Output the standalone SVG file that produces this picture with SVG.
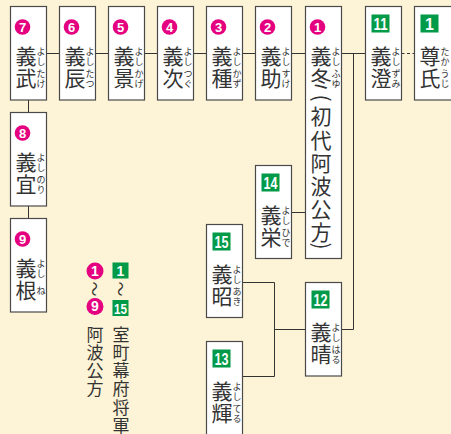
<svg xmlns="http://www.w3.org/2000/svg" width="451" height="434" viewBox="0 0 451 434">
<style>
.bg{fill:#fdf3d6}
.box{fill:#fff;stroke:#4a4a4a;stroke-width:1.2}
.k{font-family:"Noto Sans CJK JP","Noto Sans CJK SC",sans-serif;font-size:21px;fill:#333;text-anchor:middle}
.f{font-family:"Noto Sans CJK JP","Noto Sans CJK SC",sans-serif;font-size:9px;fill:#333;text-anchor:middle}
.lg{font-family:"Noto Sans CJK JP","Noto Sans CJK SC",sans-serif;font-size:17px;fill:#333;text-anchor:middle}
.c{fill:#e4007f}
.g{fill:#009a48}
.n{font-family:"Liberation Sans",Arial,sans-serif;font-weight:bold;font-size:13px;fill:#fff;text-anchor:middle}
.m{font-family:"Liberation Sans",Arial,sans-serif;font-weight:bold;font-size:16px;fill:#fff;text-anchor:middle}
.ln{stroke:#333;stroke-width:1;fill:none}
</style>
<rect class="bg" x="0" y="0" width="451" height="434"/>
<g id="connectors">
<path class="ln" d="M46.5 53.5H59.5M95.5 53.5H108.5M144.5 53.5H157.5M193.5 53.5H206.5M242.5 53.5H255.5M291.5 53.5H305.5M341.5 53.5H365.5M353.5 53.5V329.5H341.5"/>
<path class="ln" d="M401.5 53.5H414.5" stroke-dasharray="3,2.5"/>
<path class="ln" d="M28.5 100V112.5M28.5 206V218.5"/>
<path class="ln" d="M291.5 212.5H305.5"/>
<path class="ln" d="M242.5 282.5H274.5V376.5H242.5M274.5 329.5H305.5"/>
</g>
<g id="n7">
<rect class="box" x="10.5" y="6.5" width="36" height="93.5"/>
<circle class="c" cx="22.5" cy="27" r="7.8"/><text class="n" x="22.5" y="31.6">7</text>
<text class="k" x="26" y="63.5">義</text><text class="k" x="26" y="86">武</text>
<text class="f" x="41" y="54.5">よ</text><text class="f" x="41" y="64.5">し</text><text class="f" x="41" y="77">た</text><text class="f" x="41" y="87">け</text>
</g>
<g id="n6">
<rect class="box" x="59.5" y="6.5" width="36" height="93.5"/>
<circle class="c" cx="71.5" cy="27" r="7.8"/><text class="n" x="71.5" y="31.6">6</text>
<text class="k" x="75" y="63.5">義</text><text class="k" x="75" y="86">辰</text>
<text class="f" x="90" y="54.5">よ</text><text class="f" x="90" y="64.5">し</text><text class="f" x="90" y="77">た</text><text class="f" x="90" y="87">つ</text>
</g>
<g id="n5">
<rect class="box" x="108.5" y="6.5" width="36" height="93.5"/>
<circle class="c" cx="120.5" cy="27" r="7.8"/><text class="n" x="120.5" y="31.6">5</text>
<text class="k" x="124" y="63.5">義</text><text class="k" x="124" y="86">景</text>
<text class="f" x="139" y="54.5">よ</text><text class="f" x="139" y="64.5">し</text><text class="f" x="139" y="77">か</text><text class="f" x="139" y="87">げ</text>
</g>
<g id="n4">
<rect class="box" x="157.5" y="6.5" width="36" height="93.5"/>
<circle class="c" cx="169.5" cy="27" r="7.8"/><text class="n" x="169.5" y="31.6">4</text>
<text class="k" x="173" y="63.5">義</text><text class="k" x="173" y="86">次</text>
<text class="f" x="188" y="54.5">よ</text><text class="f" x="188" y="64.5">し</text><text class="f" x="188" y="77">つ</text><text class="f" x="188" y="87">ぐ</text>
</g>
<g id="n3">
<rect class="box" x="206.5" y="6.5" width="36" height="93.5"/>
<circle class="c" cx="218.5" cy="27" r="7.8"/><text class="n" x="218.5" y="31.6">3</text>
<text class="k" x="222" y="63.5">義</text><text class="k" x="222" y="86">種</text>
<text class="f" x="237" y="54.5">よ</text><text class="f" x="237" y="64.5">し</text><text class="f" x="237" y="77">か</text><text class="f" x="237" y="87">ず</text>
</g>
<g id="n2">
<rect class="box" x="255.5" y="6.5" width="36" height="93.5"/>
<circle class="c" cx="267.5" cy="27" r="7.8"/><text class="n" x="267.5" y="31.6">2</text>
<text class="k" x="271" y="63.5">義</text><text class="k" x="271" y="86">助</text>
<text class="f" x="286" y="54.5">よ</text><text class="f" x="286" y="64.5">し</text><text class="f" x="286" y="77">す</text><text class="f" x="286" y="87">け</text>
</g>
<g id="n1">
<rect class="box" x="305.5" y="6.5" width="36" height="252"/>
<circle class="c" cx="317.5" cy="27" r="7.8"/><text class="n" x="317.5" y="31.6">1</text>
<text class="k" x="321" y="63.5">義</text><text class="k" x="321" y="86">冬</text>
<text class="f" x="336" y="54.5">よ</text><text class="f" x="336" y="64.5">し</text><text class="f" x="336" y="77">ふ</text><text class="f" x="336" y="87">ゆ</text>
<text class="k" transform="translate(321,98) rotate(90)" y="7">(</text>
<text class="k" x="321" y="124">初</text><text class="k" x="321" y="148">代</text><text class="k" x="321" y="170.5">阿</text><text class="k" x="321" y="194">波</text><text class="k" x="321" y="217">公</text><text class="k" x="321" y="240">方</text>
<text class="k" transform="translate(321,246) rotate(90)" y="7">)</text>
</g>
<g id="n11">
<rect class="box" x="365.5" y="6.5" width="36" height="93.5"/>
<rect class="g" x="371.5" y="14.5" width="18" height="18"/><text class="m" x="380.5" y="29.5" textLength="14" lengthAdjust="spacingAndGlyphs">11</text>
<text class="k" x="381" y="63.5">義</text><text class="k" x="381" y="86">澄</text>
<text class="f" x="396" y="54.5">よ</text><text class="f" x="396" y="64.5">し</text><text class="f" x="396" y="77">ず</text><text class="f" x="396" y="87">み</text>
</g>
<g id="s1">
<rect class="box" x="414.5" y="6.5" width="40" height="93.5"/>
<rect class="g" x="420.5" y="14.5" width="18" height="18"/><text class="m" x="429.5" y="29.5">1</text>
<text class="k" x="430" y="63.5">尊</text><text class="k" x="430" y="86">氏</text>
<text class="f" x="445" y="54.5">た</text><text class="f" x="445" y="64.5">か</text><text class="f" x="445" y="77">う</text><text class="f" x="445" y="87">じ</text>
</g>
<g id="n8">
<rect class="box" x="10.5" y="112.5" width="36" height="93.5"/>
<circle class="c" cx="22.5" cy="133" r="7.8"/><text class="n" x="22.5" y="137.6">8</text>
<text class="k" x="26" y="169.5">義</text><text class="k" x="26" y="192">宜</text>
<text class="f" x="41" y="160.5">よ</text><text class="f" x="41" y="170.5">し</text><text class="f" x="41" y="183">の</text><text class="f" x="41" y="193">り</text>
</g>
<g id="n9">
<rect class="box" x="10.5" y="218.5" width="36" height="93.5"/>
<circle class="c" cx="22.5" cy="239" r="7.8"/><text class="n" x="22.5" y="243.6">9</text>
<text class="k" x="26" y="275.5">義</text><text class="k" x="26" y="298">根</text>
<text class="f" x="41" y="266.5">よ</text><text class="f" x="41" y="276.5">し</text><text class="f" x="41" y="293.5">ね</text>
</g>
<g id="n14">
<rect class="box" x="255.5" y="165.5" width="36" height="93"/>
<rect class="g" x="261.5" y="173.5" width="18" height="18"/><text class="m" x="270.5" y="188.5" textLength="14" lengthAdjust="spacingAndGlyphs">14</text>
<text class="k" x="271" y="222.5">義</text><text class="k" x="271" y="245">栄</text>
<text class="f" x="286" y="213.5">よ</text><text class="f" x="286" y="223.5">し</text><text class="f" x="286" y="236">ひ</text><text class="f" x="286" y="246">で</text>
</g>
<g id="n15">
<rect class="box" x="206.5" y="224.5" width="36" height="93"/>
<rect class="g" x="212.5" y="232.5" width="18" height="18"/><text class="m" x="221.5" y="247.5" textLength="14" lengthAdjust="spacingAndGlyphs">15</text>
<text class="k" x="222" y="281.5">義</text><text class="k" x="222" y="304">昭</text>
<text class="f" x="237" y="272.5">よ</text><text class="f" x="237" y="282.5">し</text><text class="f" x="237" y="295">あ</text><text class="f" x="237" y="305">き</text>
</g>
<g id="n12">
<rect class="box" x="305.5" y="282.5" width="36" height="93.5"/>
<rect class="g" x="311.5" y="290.5" width="18" height="18"/><text class="m" x="320.5" y="305.5" textLength="14" lengthAdjust="spacingAndGlyphs">12</text>
<text class="k" x="321" y="339.5">義</text><text class="k" x="321" y="362">晴</text>
<text class="f" x="336" y="330.5">よ</text><text class="f" x="336" y="340.5">し</text><text class="f" x="336" y="353">は</text><text class="f" x="336" y="363">る</text>
</g>
<g id="n13">
<rect class="box" x="206.5" y="341.5" width="36" height="100"/>
<rect class="g" x="212.5" y="349.5" width="18" height="18"/><text class="m" x="221.5" y="364.5" textLength="14" lengthAdjust="spacingAndGlyphs">13</text>
<text class="k" x="222" y="398.5">義</text><text class="k" x="222" y="421">輝</text>
<text class="f" x="237" y="389.5">よ</text><text class="f" x="237" y="399.5">し</text><text class="f" x="237" y="412">て</text><text class="f" x="237" y="422">る</text>
</g>
<g id="legend">
<circle class="c" cx="95" cy="271" r="8.5"/><text class="n" x="95" y="275.8" style="font-size:14px">1</text>
<text class="lg" transform="translate(95,289) rotate(90)" y="6" style="font-size:15px">～</text>
<circle class="c" cx="95" cy="306.5" r="8.5"/><text class="n" x="95" y="311.3" style="font-size:14px">9</text>
<rect class="g" x="112.5" y="262.5" width="16" height="16"/><text class="m" x="120.5" y="276" style="font-size:14px">1</text>
<text class="lg" transform="translate(120.5,289) rotate(90)" y="6" style="font-size:15px">～</text>
<rect class="g" x="112.5" y="300" width="16" height="16"/><text class="m" x="120.5" y="313.5" style="font-size:14px" textLength="13" lengthAdjust="spacingAndGlyphs">15</text>
<text class="lg" x="95" y="340.5">阿</text><text class="lg" x="95" y="358.8">波</text><text class="lg" x="95" y="377.1">公</text><text class="lg" x="95" y="395.4">方</text>
<text class="lg" x="121" y="340.5">室</text><text class="lg" x="121" y="358.8">町</text><text class="lg" x="121" y="377.1">幕</text><text class="lg" x="121" y="395.4">府</text><text class="lg" x="121" y="413.7">将</text><text class="lg" x="121" y="431.5">軍</text>
</g>
</svg>
